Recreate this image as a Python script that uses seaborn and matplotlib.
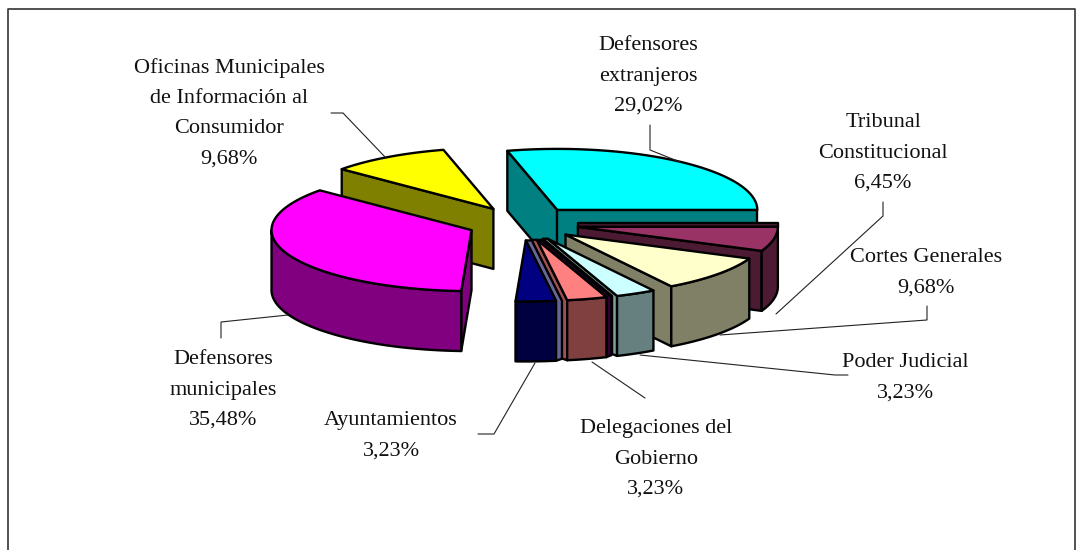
import numpy as np
import seaborn as sns
import matplotlib
matplotlib.use("Agg")
import matplotlib.pyplot as plt
from matplotlib.patches import Polygon

# ---- data (counter-clockwise from 3 o'clock) ----
categories = ["Defensores\nextranjeros", "Oficinas Municipales\nde Información al\nConsumidor",
              "Defensores\nmunicipales", "Ayuntamientos", "Delegaciones del\nGobierno",
              "Poder Judicial", "Cortes Generales", "Tribunal\nConstitucional"]
values = [29.02, 9.68, 35.48, 3.23, 3.23, 3.23, 9.68, 6.45]
value_labels = ["29,02%", "9,68%", "35,48%", "3,23%", "3,23%", "3,23%", "9,68%", "6,45%"]
top_colors = ["#00FFFF", "#FFFF00", "#FF00FF", "#000080", "#FF8080", "#CCFFFF", "#FFFFCC", "#993366"]
wall_colors = ["#008080", "#808000", "#800080", "#000040", "#804040", "#668080", "#808066", "#4D1A33"]
draw_order = [1, 2, 0, 7, 6, 5, 4, 3]

label_xy = [(648, 76), (229, 113), (223, 390), (391, 436), (656, 459), (905, 378), (926, 273), (883, 153)]
leaders = [[(650, 125), (650, 150), (680, 162)],
           [(331, 113), (343, 113), (386, 158)],
           [(221, 338), (221, 322), (288, 315)],
           [(478, 434), (494, 434), (535, 363)],
           [(645, 398), (592, 362)],
           [(848, 375), (835, 375), (640, 355)],
           [(927, 306), (927, 320), (720, 335)],
           [(883, 202), (883, 216), (776, 314)]]

# thin side faces of the three narrow slices: slice -> (edge, colour, width in px)
side_strips = {3: [("end", "#666699", 6)],
               4: [("end", "#330033", 5), ("start", "#A05050", -6)],
               5: [("start", "#80A0A0", -5)]}
TRIBUNAL_BACK_FACE = 4

# ---- pie geometry ----
CX, CY, RX, RY, EXPLODE, DEPTH = 523, 223.4, 200, 61, 56, 60
EDGE = dict(edgecolor="black", linewidth=1.7, joinstyle="round")

sns.set_theme(style="white")
plt.rcParams["font.family"] = ["Liberation Serif", "DejaVu Serif"]
fig = plt.figure(figsize=(10.84, 5.5), dpi=100)
ax = fig.add_axes([0, 0, 1, 1])
ax.set_xlim(0, 1084)
ax.set_ylim(550, 0)
ax.axis("off")

fractions = np.array(values) / np.sum(values)
edges = np.concatenate([[0], np.cumsum(fractions) * 360])


def rim(a0, a1, apex, dz=0):
    t = np.radians(np.linspace(a0, a1, max(int(abs(a1 - a0) * 2), 2)))
    return np.column_stack([apex[0] + RX * np.cos(t), apex[1] - RY * np.sin(t) + dz])


for i in draw_order:
    a0, a1 = edges[i], edges[i + 1]
    mid = np.radians((a0 + a1) / 2)
    apex = np.array([CX + EXPLODE * np.cos(mid), CY - EXPLODE * RY / RX * np.sin(mid)])
    low = apex + (0, DEPTH)
    wall = wall_colors[i]
    strips = side_strips.get(i, [])
    if i == 7:
        p = rim(a1, a1, apex)[0]
        ax.add_patch(Polygon([apex, p, p + (0, -TRIBUNAL_BACK_FACE), apex + (0, -TRIBUNAL_BACK_FACE)],
                             facecolor=wall, **EDGE))
    for edge_name, colour, w in strips:
        a = a0 if edge_name == "start" else a1
        p = rim(a, a, apex)[0]
        ax.add_patch(Polygon([apex, p, p + (0, DEPTH), p + (w, DEPTH - 2), p + (w, 0), apex + (w, 0)],
                             facecolor=colour, **EDGE))
    # radial walls that face the viewer (the narrow slices show strips instead)
    if not strips:
        if np.cos(np.radians(a1)) < 0:
            p = rim(a1, a1, apex)[0]
            ax.add_patch(Polygon([apex, p, p + (0, DEPTH), low], facecolor=wall, **EDGE))
        if np.cos(np.radians(a0)) > 0:
            p = rim(a0, a0, apex)[0]
            ax.add_patch(Polygon([apex, p, p + (0, DEPTH), low], facecolor=wall, **EDGE))
    # outer curved wall (front half only)
    f0, f1 = max(a0, 180), min(a1, 360)
    if f1 > f0:
        up = rim(f0, f1, apex)
        ax.add_patch(Polygon(np.vstack([up, up[::-1] + (0, DEPTH)]), facecolor=wall, **EDGE))
    # top face
    ax.add_patch(Polygon(np.vstack([[apex], rim(a0, a1, apex)]), facecolor=top_colors[i], **EDGE))

# ---- labels and leader lines ----
for name, val, (x, y) in zip(categories, value_labels, label_xy):
    ax.text(x, y, name + "\n" + val, ha="center", va="center", fontsize=16,
            color="#111111", linespacing=1.8)
for line in leaders:
    xs, ys = zip(*line)
    ax.plot(xs, ys, color="#222222", lw=0.8, solid_joinstyle="miter")

# ---- frame (open at the bottom) ----
ax.plot([8, 8, 1075, 1075], [550, 9, 9, 550], color="#333333", lw=1.2)

fig.savefig("out.png", dpi=100, facecolor="white")
